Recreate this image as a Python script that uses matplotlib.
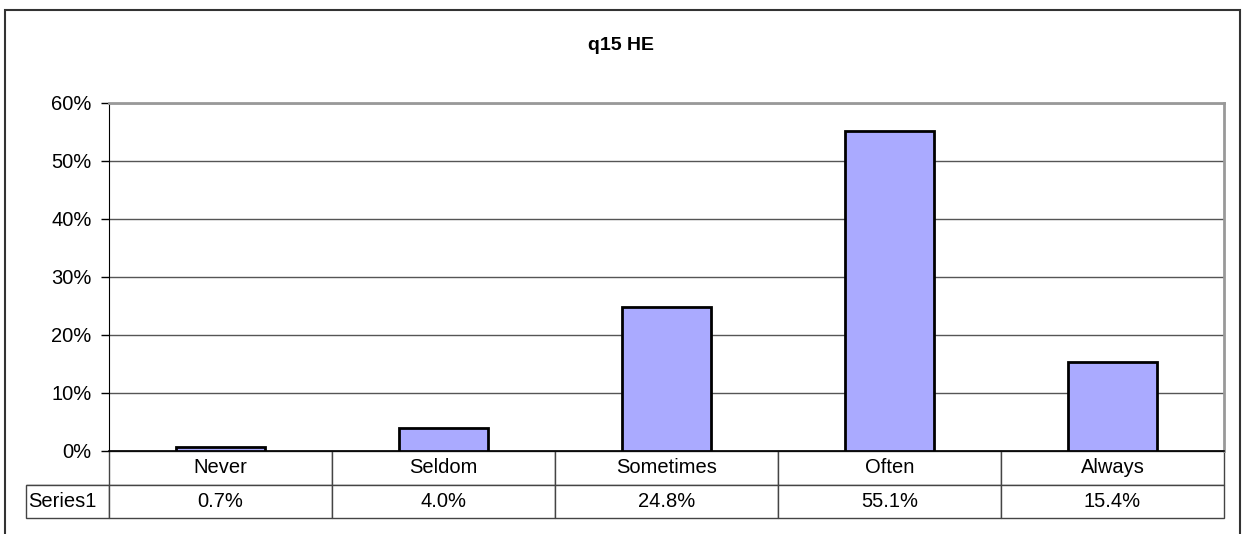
import matplotlib.pyplot as plt
from matplotlib.patches import Rectangle

categories = ["Never", "Seldom", "Sometimes", "Often", "Always"]
values = [0.7, 4.0, 24.8, 55.1, 15.4]
series_name = "Series1"
yticks = [0, 10, 20, 30, 40, 50, 60]
title = "q15 HE"

plt.rcParams['font.family'] = ['Liberation Sans', 'DejaVu Sans']

W, H = 1242, 534
fig = plt.figure(figsize=(W / 100, H / 100), dpi=100)

# outer chart frame
fig.patches.append(Rectangle((5 / W, -0.02), 1235 / W, (H - 10) / H + 0.02,
                             transform=fig.transFigure, fill=False,
                             edgecolor="#333333", linewidth=1.5, clip_on=False))

left, right, top, bottom = 109, 1224, 103, 451
ax = fig.add_axes([left / W, (H - bottom) / H, (right - left) / W, (bottom - top) / H])

x = range(len(categories))
ax.bar(x, values, width=0.4, color="#AAAAFF", edgecolor="black", linewidth=2, zorder=3)
ax.set_xlim(-0.5, len(categories) - 0.5)
ax.set_ylim(0, 60)
ax.set_yticks(yticks)
ax.set_yticklabels([f"{t}%" for t in yticks], fontsize=14.5)
ax.tick_params(axis="y", length=6, width=1, direction="out", pad=6.5)
ax.set_xticks([])
ax.grid(axis="y", color="#555555", linewidth=1, zorder=0)

ax.spines["left"].set_color("black")
ax.spines["bottom"].set_color("black")
ax.spines["bottom"].set_linewidth(1.2)
ax.spines["top"].set_color("#999999")
ax.spines["right"].set_color("#999999")
ax.spines["top"].set_linewidth(2)
ax.spines["right"].set_linewidth(2)

fig.text(0.5, (H - 45) / H, title, ha="center", va="center", fontsize=14, fontweight="bold")

# data table below the axis
row_w = (left - 26) / (right - left)
tbl_h = (518 - bottom) / (bottom - top)
col_w = 1.0 / len(categories)
cells = [[""] + categories, [series_name] + [f"{v:.1f}%" for v in values]]
tbl = ax.table(cellText=cells, colWidths=[row_w] + [col_w] * len(categories),
               cellLoc="center",
               bbox=[-row_w, -tbl_h, 1 + row_w, tbl_h])
tbl.auto_set_font_size(False)
tbl.set_fontsize(14.5)
for (r, c), cell in tbl.get_celld().items():
    cell.set_edgecolor("#444444")
    cell.set_linewidth(1)
    cell.PAD = 0.02
    if c == 0 and r == 1:
        cell._loc = "left"
        cell.get_text().set_ha("left")
tbl[(0, 0)].visible_edges = "B"

fig.savefig("out.png", dpi=100)
